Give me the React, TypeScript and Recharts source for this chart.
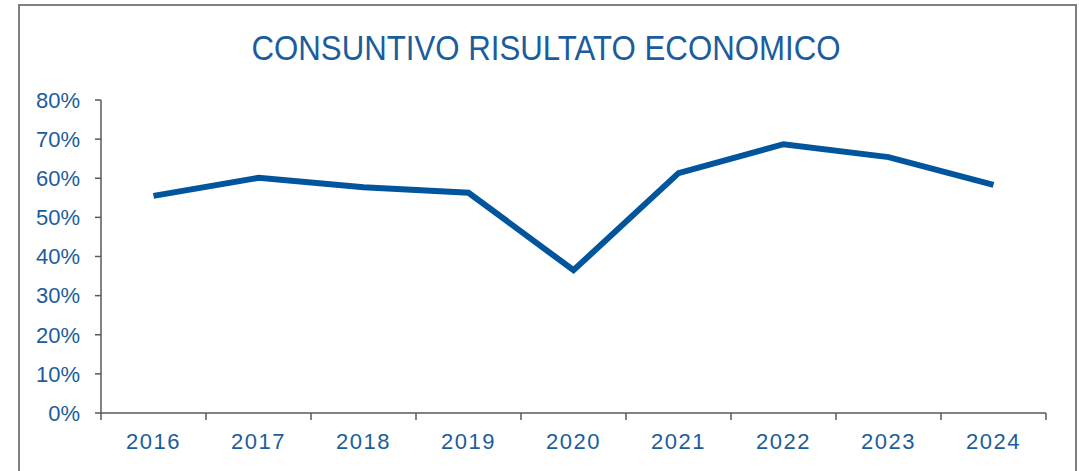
import React from 'react';
import { LineChart, Line, XAxis, YAxis } from 'recharts';

// Values
const years = ['2016', '2017', '2018', '2019', '2020', '2021', '2022', '2023', '2024'];
const ratio = [0.555, 0.601, 0.577, 0.563, 0.365, 0.613, 0.687, 0.654, 0.583];
const yTicks = [0, 0.1, 0.2, 0.3, 0.4, 0.5, 0.6, 0.7, 0.8];
const bandEdges = [0, 1, 2, 3, 4, 5, 6, 7, 8, 9];

const data = years.map((year, i) => ({ year, pos: i + 0.5, value: ratio[i] }));

const BLUE = '#00559d';
const TEXT_BLUE = '#1b5d9c';
const AXIS = '#595959';
const FONT = '"Liberation Sans", Arial, sans-serif';

const EmptyTick = () => <g />;

export default function App() {
  return (
    <div
      style={{
        position: 'absolute',
        left: 18,
        top: 4,
        width: 1055,
        height: 480,
        border: '2px solid #7f7f7f',
        background: '#fff',
      }}
    >
      <svg width={1055} height={70} style={{ position: 'absolute', left: 0, top: 0 }}>
        <text
          x={526}
          y={54}
          textAnchor="middle"
          fill={TEXT_BLUE}
          fontFamily={FONT}
          fontSize={35}
          textLength={589}
          lengthAdjust="spacingAndGlyphs"
        >
          CONSUNTIVO RISULTATO ECONOMICO
        </text>
      </svg>
      <div style={{ position: 'absolute', left: 0, top: 0 }}>
        <LineChart width={1055} height={460} data={data} margin={{ top: 94, right: 29, left: 0, bottom: 6 }}>
          {/* band edges: axis line + tick marks between years */}
          <XAxis
            xAxisId="a_edges"
            type="number"
            dataKey="pos"
            domain={[0, 9]}
            ticks={bandEdges}
            interval={0}
            height={7}
            tick={<EmptyTick />}
            tickSize={7}
            axisLine={{ stroke: AXIS, strokeWidth: 1.5 }}
            tickLine={{ stroke: AXIS, strokeWidth: 1.5 }}
          />
          {/* year labels centred in each band */}
          <XAxis
            xAxisId="b_years"
            type="category"
            dataKey="year"
            scale="band"
            height={40}
            axisLine={false}
            tickLine={false}
            tickMargin={7}
            interval={0}
            tick={{ fill: TEXT_BLUE, fontSize: 22, fontFamily: FONT, letterSpacing: 1.5 }}
          />
          <YAxis
            type="number"
            domain={[0, 0.8]}
            ticks={yTicks}
            interval={0}
            width={81}
            tickSize={6}
            tickMargin={15}
            tickFormatter={(v: number) => `${Math.round(v * 100)}%`}
            tick={{ fill: TEXT_BLUE, fontSize: 22, fontFamily: FONT }}
            axisLine={{ stroke: AXIS, strokeWidth: 1.5 }}
            tickLine={{ stroke: AXIS, strokeWidth: 1.5 }}
          />
          <Line
            xAxisId="a_edges"
            type="linear"
            dataKey="value"
            stroke={BLUE}
            strokeWidth={6}
            dot={false}
            activeDot={false}
            isAnimationActive={false}
          />
        </LineChart>
      </div>
    </div>
  );
}
